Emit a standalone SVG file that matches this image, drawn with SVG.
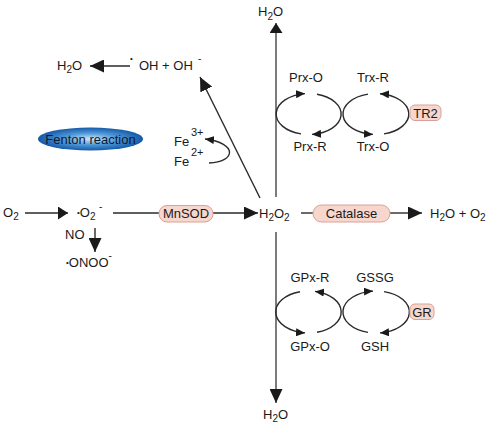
<svg xmlns="http://www.w3.org/2000/svg" width="493" height="428" viewBox="0 0 493 428">
<style>
text{font-family:"Liberation Sans",Arial,sans-serif;font-size:13px;fill:#1a1a1a}
.c{text-anchor:middle}
.sb{font-size:10px}
.sp{font-size:11px}
.dt{font-size:8px}
.ln{fill:none;stroke:#2a2a2a;stroke-width:1.4}
.big{marker-end:url(#a)}
.sm{marker-end:url(#s)}
.enz{fill:#f7d7cd;stroke:#d9a193;stroke-width:1}
</style>
<defs>
<marker id="a" viewBox="0 0 14 13" refX="14" refY="6.5" markerWidth="14" markerHeight="13" markerUnits="userSpaceOnUse" orient="auto"><path d="M0,0 L14,6.5 L0,13 z" fill="#1a1a1a"/></marker>
<marker id="b" viewBox="0 0 10 13" refX="10" refY="6.5" markerWidth="10" markerHeight="13" markerUnits="userSpaceOnUse" orient="auto"><path d="M0,0 L10,6.5 L0,13 z" fill="#1a1a1a"/></marker>
<marker id="s" viewBox="0 0 9 8" refX="9" refY="4" markerWidth="9" markerHeight="8" markerUnits="userSpaceOnUse" orient="auto"><path d="M0,0 L9,4 L0,8 z" fill="#1a1a1a"/></marker>
<radialGradient id="fg" cx="0.5" cy="0.5" r="0.5">
<stop offset="0" stop-color="#d2e7f7"/>
<stop offset="0.5" stop-color="#4f9ad9"/>
<stop offset="1" stop-color="#1659a8"/>
</radialGradient>
</defs>

<g id="connectors">
<line class="ln" x1="25" y1="213" x2="68" y2="213" marker-end="url(#b)"/>
<line class="ln" x1="113" y1="213" x2="159" y2="213"/>
<line class="ln big" x1="213" y1="213" x2="258" y2="213"/>
<line class="ln big" x1="95" y1="228" x2="95" y2="252"/>
<line class="ln" x1="301" y1="213" x2="313" y2="213"/>
<line class="ln big" x1="390" y1="213" x2="422" y2="213"/>
<line class="ln" x1="276" y1="197" x2="276" y2="23" marker-end="url(#b)" style="stroke:#444"/>
<line class="ln big" x1="276" y1="232" x2="276" y2="403" style="stroke:#444"/>
<line class="ln big" x1="260" y1="198" x2="200" y2="77"/>
<line class="ln big" x1="130" y1="66" x2="90" y2="66"/>
<path class="ln sm" d="M209,163 C236,162 238,143 205,139"/>
<path class="ln sm" d="M301,133.9 A32.5,20.5 0 0 1 305,93.6"/>
<path class="ln sm" d="M317,94.2 A32.5,20.5 0 0 1 312,134.4"/>
<path class="ln sm" d="M368,94.1 A33,20.5 0 0 0 373,134.4"/>
<path class="ln sm" d="M384,133.9 A33,20.5 0 0 0 380,93.7"/>
<path class="ln sm" d="M300,291.7 A32.5,21 0 0 0 305,332.9"/>
<path class="ln sm" d="M317,332.3 A32.5,21 0 0 0 315,291.4"/>
<path class="ln sm" d="M368,332.4 A33,21 0 0 1 373,291.1"/>
<path class="ln sm" d="M384,291.6 A33,21 0 0 1 380,332.9"/>
</g>

<g id="o2"><text x="3" y="217">O<tspan class="sb" dy="3">2</tspan></text></g>
<g id="superoxide"><text x="77" y="217"><tspan class="dt" dy="-2">•</tspan><tspan dy="2">O</tspan><tspan class="sb" dy="3">2</tspan><tspan class="sb" x="99" dy="-10">-</tspan></text></g>
<g id="no"><text x="65" y="239">NO</text></g>
<g id="peroxynitrite"><text x="66" y="267"><tspan class="dt" dy="-2">•</tspan><tspan dy="2">ONOO</tspan><tspan class="sb" dy="-8">-</tspan></text></g>
<g id="mnsod"><rect class="enz" x="159" y="205.5" width="54" height="16.5" rx="8"/><text class="c" x="186" y="218">MnSOD</text></g>
<g id="h2o2"><text x="259" y="218">H<tspan class="sb" dy="3">2</tspan><tspan dy="-3">O</tspan><tspan class="sb" dy="3">2</tspan></text></g>
<g id="catalase"><rect class="enz" x="313" y="205" width="77" height="17" rx="8.5"/><text class="c" x="351.5" y="218">Catalase</text></g>
<g id="h2o-o2"><text x="430" y="218">H<tspan class="sb" dy="3">2</tspan><tspan dy="-3">O + O</tspan><tspan class="sb" dy="3">2</tspan></text></g>
<g id="h2o-top"><text x="258" y="16">H<tspan class="sb" dy="4">2</tspan><tspan dy="-4">O</tspan></text></g>
<g id="h2o-bottom"><text x="263" y="419">H<tspan class="sb" dy="3">2</tspan><tspan dy="-3">O</tspan></text></g>
<g id="h2o-left"><text x="57" y="70">H<tspan class="sb" dy="3">2</tspan><tspan dy="-3">O</tspan></text></g>
<g id="hydroxyl"><text x="130" y="70"><tspan class="dt" dy="-9">•</tspan><tspan x="139" dy="9">OH + OH</tspan><tspan class="sb" x="198" dy="-8">-</tspan></text></g>
<g id="fenton"><ellipse cx="90.5" cy="139" rx="52.5" ry="11.5" fill="url(#fg)"/><text class="c" x="90.5" y="144" style="fill:#101830">Fenton reaction</text></g>
<g id="fe3"><text x="174" y="146">Fe<tspan class="sp" x="191" dy="-10">3+</tspan></text></g>
<g id="fe2"><text x="174" y="166">Fe<tspan class="sp" x="191" dy="-10">2+</tspan></text></g>
<g id="prx-o"><text class="c" x="306" y="82">Prx-O</text></g>
<g id="trx-r"><text class="c" x="373" y="82">Trx-R</text></g>
<g id="prx-r"><text class="c" x="310" y="151">Prx-R</text></g>
<g id="trx-o"><text class="c" x="373" y="151">Trx-O</text></g>
<g id="tr2"><rect class="enz" x="410" y="105" width="31" height="15.5" rx="5"/><text class="c" x="425.5" y="117.5">TR2</text></g>
<g id="gpx-r"><text class="c" x="310" y="282">GPx-R</text></g>
<g id="gssg"><text class="c" x="375" y="282">GSSG</text></g>
<g id="gpx-o"><text class="c" x="310" y="351">GPx-O</text></g>
<g id="gsh"><text class="c" x="375" y="351">GSH</text></g>
<g id="gr"><rect class="enz" x="410" y="304" width="24" height="15.5" rx="5"/><text class="c" x="422" y="316.5">GR</text></g>
</svg>
